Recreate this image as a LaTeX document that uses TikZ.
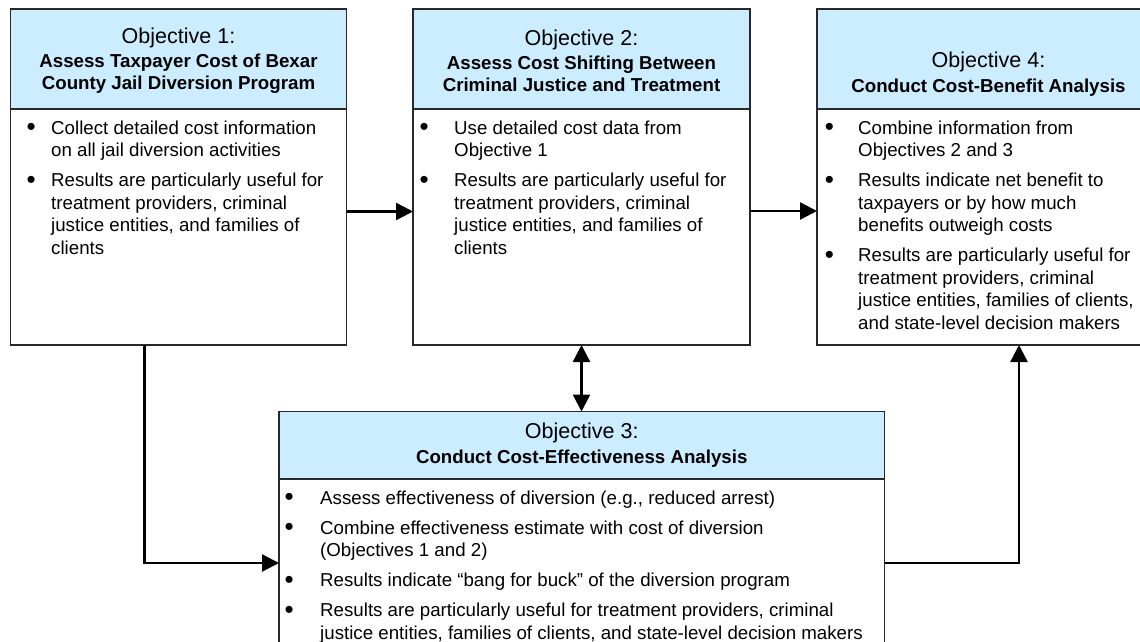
\documentclass[tikz,border=0pt]{standalone}
\usepackage{fontspec}
\setmainfont{Liberation Sans}
\usetikzlibrary{arrows.meta}
\definecolor{hdrblue}{RGB}{204,236,255}
\definecolor{edge}{RGB}{40,40,40}
\newcommand{\bigbullet}{\makebox[6.5pt][c]{\raisebox{-1.6pt}{\fontsize{26}{26}\selectfont\textbullet}}}
\newcommand{\bul}[2]{\par\noindent\llap{\bigbullet\hspace{#1}}#2}
\newcommand{\bodyfont}{\fontsize{18.7}{22.5}\selectfont}
\newcommand{\objt}[1]{{\fontsize{21.5}{21.5}\selectfont Objective #1:}}
\tikzset{
  objbox/.style={draw=edge, line width=1.2pt, fill=white, rectangle, inner sep=0pt, outer sep=0pt, anchor=north west},
  hdr/.style={draw=edge, line width=1.2pt, fill=hdrblue, rectangle, inner sep=0pt, outer sep=0pt, anchor=north west},
  htext/.style={align=center, inner sep=0pt, font=\fontsize{18.7}{21.5}\selectfont},
  bodytext/.style={inner sep=0pt, anchor=base west},
  conn/.style={line width=2.4pt, -{Triangle[length=17pt,width=17pt]}},
  dconn/.style={line width=2.4pt, {Triangle[length=17pt,width=17pt]}-{Triangle[length=17pt,width=17pt]}}
}
\begin{document}
\begin{tikzpicture}[x=1pt,y=-1pt]
\useasboundingbox (0,0) rectangle (1140,642);
\clip (0,0) rectangle (1140,642);
% boxes
\node[objbox, minimum width=336pt, minimum height=336pt] (b1) at (10.5,9) {};
\node[hdr, minimum width=336pt, minimum height=100pt] (h1) at (10.5,9) {};
\node[objbox, minimum width=337pt, minimum height=336pt] (b2) at (413,9) {};
\node[hdr, minimum width=337pt, minimum height=100pt] (h2) at (413,9) {};
\node[objbox, minimum width=343pt, minimum height=336pt] (b4) at (817,9) {};
\node[hdr, minimum width=343pt, minimum height=100pt] (h4) at (817,9) {};
\node[objbox, minimum width=605.5pt, minimum height=250pt] (b3) at (279,411.5) {};
\node[hdr, minimum width=605.5pt, minimum height=67.5pt] (h3) at (279,411.5) {};
% header texts
\node[htext] (t1) at ([yshift=-1.5pt]h1.center) {\objt{1}\\[3pt]\textbf{Assess Taxpayer Cost of Bexar}\\\textbf{County Jail Diversion Program}};
\node[htext] (t2) at ([yshift=-1.5pt]h2.center) {\objt{2}\\[3pt]\textbf{Assess Cost Shifting Between}\\\textbf{Criminal Justice and Treatment}};
\node[htext] (t4) at ([yshift=-15pt]h4.center) {\objt{4}\\[3pt]\textbf{Conduct Cost-Benefit Analysis}};
\node[htext] (t3) at (h3.center) {\objt{3}\\[3pt]\textbf{Conduct Cost-Effectiveness Analysis}};
% body texts
\node[bodytext] (c1) at (51,134) {\begin{minipage}[t]{600pt}\bodyfont\setlength{\parskip}{7.5pt}%
\bul{16.7pt}{Collect detailed cost information\newline on all jail diversion activities}%
\bul{16.7pt}{Results are particularly useful for\newline treatment providers, criminal\newline justice entities, and families of\newline clients}%
\end{minipage}};
\node[bodytext] (c2) at (454,134) {\begin{minipage}[t]{600pt}\bodyfont\setlength{\parskip}{7.5pt}%
\bul{26.7pt}{Use detailed cost data from\newline Objective 1}%
\bul{26.7pt}{Results are particularly useful for\newline treatment providers, criminal\newline justice entities, and families of\newline clients}%
\end{minipage}};
\node[bodytext] (c4) at (858,134) {\begin{minipage}[t]{600pt}\bodyfont\setlength{\parskip}{7.5pt}%
\bul{25.6pt}{Combine information from\newline Objectives 2 and 3}%
\bul{25.6pt}{Results indicate net benefit to\newline taxpayers or by how much\newline benefits outweigh costs}%
\bul{25.6pt}{Results are particularly useful for\newline treatment providers, criminal\newline justice entities, families of clients,\newline and state-level decision makers}%
\end{minipage}};
\node[bodytext] (c3) at (320,504) {\begin{minipage}[t]{600pt}\bodyfont\setlength{\parskip}{7.5pt}%
\bul{27.7pt}{Assess effectiveness of diversion (e.g., reduced arrest)}%
\bul{27.7pt}{Combine effectiveness estimate with cost of diversion\newline (Objectives 1 and 2)}%
\bul{27.7pt}{Results indicate “bang for buck” of the diversion program}%
\bul{27.7pt}{Results are particularly useful for treatment providers, criminal\newline justice entities, families of clients, and state-level decision makers}%
\end{minipage}};
% connectors
\draw[conn] ([yshift=-34.5pt]b1.east) -- ([yshift=-34.5pt]b2.west);
\draw[conn] ([yshift=-34pt]b2.east) -- ([yshift=-34pt]b4.west);
\draw[dconn] (b2.south) -- (b2.south |- b3.north);
\draw[conn] ([xshift=134pt]b1.south west) |- ([yshift=-151.5pt]b3.north west);
\draw[conn] ([yshift=-151.5pt]b3.north east) -| ([xshift=202pt]b4.south west);
\end{tikzpicture}
\end{document}
